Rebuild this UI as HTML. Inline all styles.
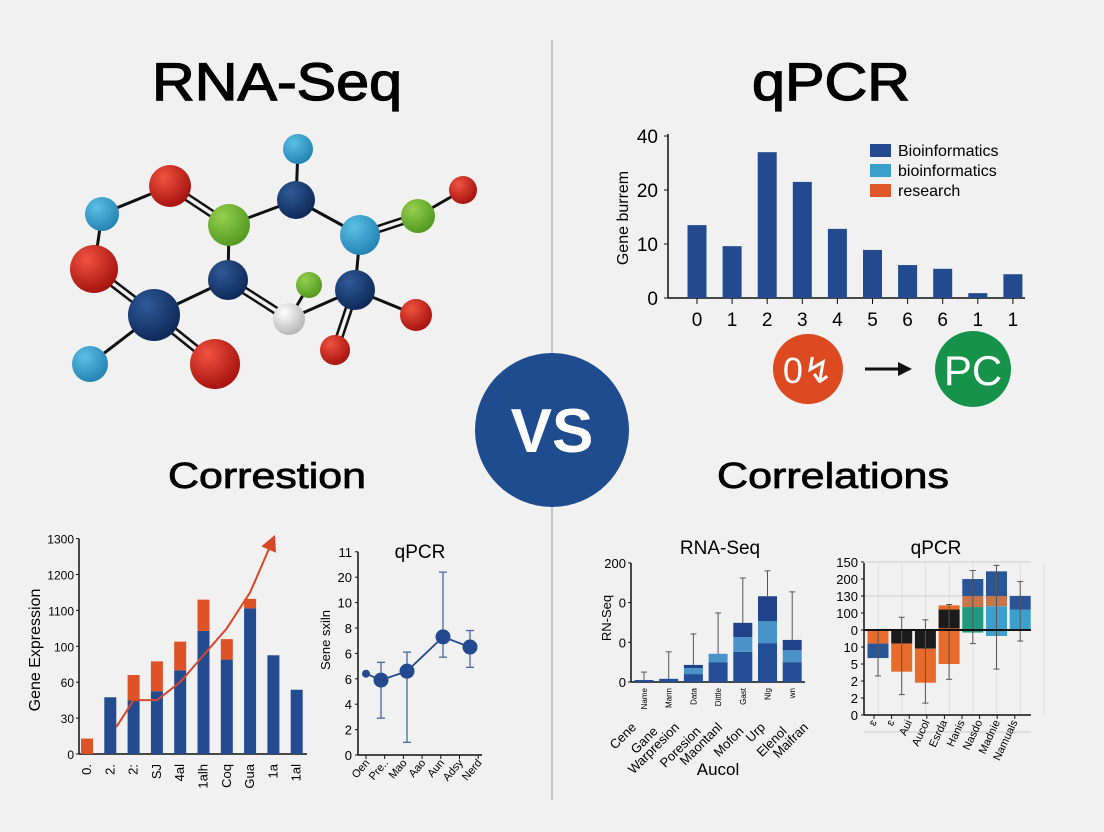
<!DOCTYPE html>
<html><head><meta charset="utf-8"><style>
html,body{margin:0;padding:0;background:#f1f1f1;}
svg{display:block;font-family:"Liberation Sans",sans-serif;}
.ttl{stroke:#000;stroke-width:1.3px;}
</style></head><body>
<svg id="root" width="1104" height="832" viewBox="0 0 1104 832" xmlns="http://www.w3.org/2000/svg">
<defs>
<radialGradient id="gR" cx="35%" cy="30%" r="70%"><stop offset="0" stop-color="#f0533f"/><stop offset="1" stop-color="#a8140f"/></radialGradient>
<radialGradient id="gN" cx="35%" cy="30%" r="70%"><stop offset="0" stop-color="#2f5a98"/><stop offset="1" stop-color="#0f2a5a"/></radialGradient>
<radialGradient id="gL" cx="35%" cy="30%" r="70%"><stop offset="0" stop-color="#5cc0e4"/><stop offset="1" stop-color="#2585b5"/></radialGradient>
<radialGradient id="gG" cx="35%" cy="30%" r="70%"><stop offset="0" stop-color="#95d04f"/><stop offset="1" stop-color="#559a22"/></radialGradient>
<radialGradient id="gW" cx="35%" cy="30%" r="70%"><stop offset="0" stop-color="#ffffff"/><stop offset="1" stop-color="#b8b8b8"/></radialGradient>
<marker id="arr" markerWidth="8" markerHeight="8" refX="6" refY="4" orient="auto"><path d="M0,0 L8,4 L0,8 z" fill="#d9472b"/></marker>
</defs>
<line x1="552" y1="40" x2="552" y2="800" stroke="#b8b8b8" stroke-width="1.5"/>
<text class="ttl" x="277" y="100" font-size="53" text-anchor="middle" textLength="250" lengthAdjust="spacingAndGlyphs">RNA-Seq</text>
<text class="ttl" x="831" y="100" font-size="53" text-anchor="middle" textLength="158" lengthAdjust="spacingAndGlyphs">qPCR</text>
<text class="ttl" x="267" y="488" font-size="36" text-anchor="middle" textLength="198" lengthAdjust="spacingAndGlyphs" style="stroke-width:0.8px">Correstion</text>
<text class="ttl" x="833" y="488" font-size="36" text-anchor="middle" textLength="232" lengthAdjust="spacingAndGlyphs" style="stroke-width:0.8px">Correlations</text>
<g id="mol"></g>
<g>
<circle cx="552" cy="430" r="77" fill="#1f4c8f"/>
<text x="552" y="452" font-size="62" font-weight="bold" fill="#fff" text-anchor="middle">VS</text>
</g>
<g>
<circle cx="808" cy="369" r="35" fill="#dd4a22"/>
<text x="808" y="383" font-size="36" fill="#fff" text-anchor="middle">0↯</text>
<line x1="865" y1="369" x2="900" y2="369" stroke="#111" stroke-width="3"/>
<path d="M898,362 L912,369 L898,376 z" fill="#111"/>
<circle cx="973" cy="369" r="38" fill="#17924a"/>
<text x="973" y="385" font-size="42" fill="#fff" text-anchor="middle">PC</text>
</g>
<g id="c1"></g>
<g id="c2"></g>
<g id="c3"></g>
<g id="c4"></g>
<g id="c5"></g>
</svg>
<script>
// ---- chart 1 data ----
const c1Cats = ["0","1","2","3","4","5","6","6","1","1"];
const c1Vals = [13.5,9.6,34,23,12.8,8.9,6.1,5.4,0.9,4.4];
const c1Ticks = [0,10,20,40];
const c1Legend = ["Bioinformatics","bioinformatics","research"];
// ---- chart 2 data (tick-step units) ----
const c2Cats = ["0.","2.","2:","SJ","4al","1alh","Coq","Gua","1a","1al"];
const c2Blue = [0,1.58,1.49,1.75,2.33,3.43,2.63,4.06,2.75,1.79];
const c2Orange = [0.43,0,0.71,0.83,0.8,0.87,0.57,0.26,0,0];
const c2Trend = [null,0.75,1.5,1.5,2.0,2.75,3.5,4.5,6.0];
const c2Ticks = ["0","30","60","100","1100","1200","1300"];
// ---- chart 3 data ----
const c3Cats = ["Oen","Pre..","Mao","Aao","Aun","Adsy","Nerd"];
const c3Vals = [3.2,2.95,3.3,4.65,4.25];
const c3Lo = [null,1.45,0.5,3.85,3.45];
const c3Hi = [null,3.65,4.05,7.2,4.9];
const c3Ticks = ["0","2","4","6","6","8","10","20","11"];
// ---- chart 4 data ----
const c4Cats = ["Cene","Gane","Warpresion","Poresion","Maontanl","Mofon","Urp","Elenol","Maifran"];
const c4Sub = ["Name","Mann","Data","Dittle","Gast","Nlg","wn"];
const c4S1 = [0.05,0.08,0.2,0.5,0.76,0.98,0.5];
const c4S2 = [0,0,0.15,0.21,0.37,0.55,0.3];
const c4S3 = [0,0,0.08,0,0.36,0.63,0.26];
const c4Err = [0.25,0.76,1.21,1.74,2.62,2.8,2.27];
const c4Ticks = ["0","0","0","200"];
// ---- chart 5 data (steps from zero line, up positive) ----
const c5Cats = ["ɛ","ɛ","Aui","Aucol","Esrda","Hanis","Nasdo","Madnie","Namuals"];
const c5Segs = [
 [[0,-0.8,"#e76b2b"],[-0.8,-1.65,"#2a5596"]],
 [[0,-0.8,"#1b1b1b"],[-0.8,-2.45,"#e76b2b"]],
 [[0,-1.1,"#1b1b1b"],[-1.1,-3.1,"#e76b2b"]],
 [[1.45,-2.0,"#e76b2b"],[1.2,0.1,"#1b1b1b"]],
 [[0,-0.15,"#1f9a80"],[0,1.35,"#1f9a80"],[1.35,2.0,"#c9754a"],[2.0,3.0,"#2a5596"]],
 [[-0.35,0,"#3d9fcc"],[0,1.4,"#3d9fcc"],[1.4,2.0,"#c9754a"],[2.0,3.45,"#2a5596"]],
 [[0,1.2,"#3d9fcc"],[1.2,2.0,"#2a5596"]]
];
const c5Err = [[-2.7,0],[-3.8,0.75],[-4.3,0.6],[-2.9,1.5],[-0.8,3.5],[-2.3,3.8],[-0.65,2.85]];
const c5Ticks = ["0","2","2","5","10","0","100","130","200","150"];

const NS="http://www.w3.org/2000/svg";
function mk(parent,tag,attrs,text){const e=document.createElementNS(NS,tag);for(const k in attrs)e.setAttribute(k,attrs[k]);if(text!=null)e.textContent=text;parent.appendChild(e);return e;}

// molecule (decorative, not data)
(function(){
 const g=document.getElementById('mol');
 const N=[[298,149,15,'L'],[296,200,19,'N'],[170,186,21,'R'],[102,214,17,'L'],[229,225,21,'G'],[228,280,20,'N'],[360,235,20,'L'],[418,216,17,'G'],[463,190,14,'R'],[94,269,24,'R'],[154,315,26,'N'],[309,285,13,'G'],[289,319,16,'W'],[355,290,20,'N'],[416,315,16,'R'],[335,350,15,'R'],[215,364,25,'R'],[90,364,18,'L']];
 const E=[[3,2,1],[2,4,2],[4,1,1],[1,0,1],[1,6,1],[6,7,2],[7,8,1],[6,13,1],[13,12,1],[13,14,1],[13,15,2],[12,11,1],[12,5,2],[5,4,1],[5,10,1],[10,9,2],[9,3,1],[10,16,2],[10,17,1]];
 E.forEach(([a,b,d])=>{const A=N[a],B=N[b];const dx=B[0]-A[0],dy=B[1]-A[1],L=Math.hypot(dx,dy),nx=-dy/L*3,ny=dx/L*3;
  if(d==2){[-1,1].forEach(s=>{const l=mk(g,'line',{x1:A[0]+nx*s,y1:A[1]+ny*s,x2:B[0]+nx*s,y2:B[1]+ny*s,stroke:'#111','stroke-width':2.5});
  
  });}
  else{const l=mk(g,'line',{x1:A[0],y1:A[1],x2:B[0],y2:B[1],stroke:'#111','stroke-width':3});
  
  }});
 N.forEach(n=>{const c=mk(g,'circle',{cx:n[0],cy:n[1],r:n[2],fill:'url(#g'+n[3]+')'});
  
  });
})();

// chart1
(function(){
 const g=document.getElementById('c1');
 const x0=668,x1=1025,y0=298,step=54;
 const y=v=>{for(let i=0;i<c1Ticks.length-1;i++){if(v<=c1Ticks[i+1]){return y0-(i+(v-c1Ticks[i])/(c1Ticks[i+1]-c1Ticks[i]))*step;}}return y0-(c1Ticks.length-1)*step;};
 const xc=i=>697+i*35.1;
 mk(g,'line',{x1:x0,y1:y0,x2:x1,y2:y0,stroke:'#111','stroke-width':1.5});
 mk(g,'line',{x1:x0,y1:y0,x2:x0,y2:y(40)-2,stroke:'#111','stroke-width':1.5});
 c1Ticks.forEach(t=>{mk(g,'line',{x1:x0-4,y1:y(t),x2:x0,y2:y(t),stroke:'#111'});
  const tl=mk(g,'text',{x:x0-10,y:y(t)+7,'font-size':19,'text-anchor':'end'},String(t));
  
  });
 const yt=mk(g,'text',{x:628,y:218,'font-size':16,'text-anchor':'middle',transform:'rotate(-90 628 218)'},'Gene burrem');
 
 
 c1Vals.forEach((v,i)=>{const b=mk(g,'rect',{x:xc(i)-9.5,y:y(v),width:19,height:y0-y(v),fill:'#234a8e'});
  
  
  mk(g,'line',{x1:xc(i),y1:y0,x2:xc(i),y2:y0+6,stroke:'#111'});
  const t=mk(g,'text',{x:xc(i),y:y0+28,'font-size':19,'text-anchor':'middle'},c1Cats[i]);
  
  });
 const cols=['#234a8e','#3a9fcb','#e0582a'];
 c1Legend.forEach((s,i)=>{const r=mk(g,'rect',{x:870,y:144+i*20,width:21,height:13,fill:cols[i]});
  
  
  const t=mk(g,'text',{x:898,y:156+i*20,'font-size':16},s);
  
  });
})();

// chart2
(function(){
 const g=document.getElementById('c2');
 const x0=79,y0=754,step=35.9;
 const y=v=>y0-v*step, xc=i=>87+i*23.3;
 mk(g,'line',{x1:x0,y1:y0,x2:307,y2:y0,stroke:'#111','stroke-width':1.5});
 mk(g,'line',{x1:x0,y1:y0,x2:x0,y2:y(6),stroke:'#111','stroke-width':1.5});
 c2Ticks.forEach((t,i)=>{mk(g,'line',{x1:x0-3,y1:y(i),x2:x0,y2:y(i),stroke:'#111'});
  const tl=mk(g,'text',{x:x0-5,y:y(i)+5,'font-size':12,'text-anchor':'end'},t);
  
  });
 const yt=mk(g,'text',{x:40,y:650,'font-size':16,'text-anchor':'middle',transform:'rotate(-90 40 650)'},'Gene Expression');
 
 
 c2Cats.forEach((c,i)=>{
  if(c2Blue[i]>0){const b=mk(g,'rect',{x:xc(i)-6,y:y(c2Blue[i]),width:12,height:y0-y(c2Blue[i]),fill:'#244a90'});
   
   }
  if(c2Orange[i]>0){const b=mk(g,'rect',{x:xc(i)-6,y:y(c2Blue[i]+c2Orange[i]),width:12,height:c2Orange[i]*step,fill:'#dd5327'});
   
   }
  const t=mk(g,'text',{x:xc(i)+4,y:y0+10,'font-size':13,'text-anchor':'end',transform:`rotate(-90 ${xc(i)+4} ${y0+10})`},c);
  
  });
 let d='';c2Trend.forEach((v,i)=>{if(v==null)return;const X=xc(i)+(i==1?6:0);d+=(d?' L':'M')+X+','+y(v);});
 const p=mk(g,'path',{d:d,fill:'none',stroke:'#d9472b','stroke-width':2,'marker-end':'url(#arr)'});
 
 
})();

// chart3
(function(){
 const g=document.getElementById('c3');
 const x0=358,y0=755,step=25.4;
 const y=v=>y0-v*step, xc=i=>366+i*19.2;
 mk(g,'line',{x1:x0,y1:y0,x2:482,y2:y0,stroke:'#111','stroke-width':1.5});
 mk(g,'line',{x1:x0,y1:y0,x2:x0,y2:y(8),stroke:'#111','stroke-width':1.5});
 c3Ticks.forEach((t,i)=>{mk(g,'line',{x1:x0-3,y1:y(i),x2:x0,y2:y(i),stroke:'#111'});
  const tl=mk(g,'text',{x:x0-6,y:y(i)+5,'font-size':13,'text-anchor':'end'},t);
  
  });
 const tt=mk(g,'text',{x:420,y:558,'font-size':19,'text-anchor':'middle'},'qPCR');
 
 
 const yt=mk(g,'text',{x:330,y:640,'font-size':13,'text-anchor':'middle',transform:'rotate(-90 330 640)'},'Sene sxiln');
 
 
 c3Cats.forEach((c,i)=>{mk(g,'line',{x1:x0+8+i*18.7,y1:y0,x2:x0+8+i*18.7,y2:y0+4,stroke:'#111'});
  const X=x0+12+i*18.7;
  const t=mk(g,'text',{x:X,y:y0+8,'font-size':11,'text-anchor':'end',transform:`rotate(-50 ${X} ${y0+8})`},c);
  
  });
 const px=[366,381,407,443,470];
 let d='';c3Vals.forEach((v,i)=>{d+=(i?' L':'M')+px[i]+','+y(v);});
 const ln=mk(g,'path',{d:d,fill:'none',stroke:'#234a8e','stroke-width':1.8});
 
 
 c3Vals.forEach((v,i)=>{
  if(c3Lo[i]!=null){mk(g,'line',{x1:px[i],y1:y(c3Lo[i]),x2:px[i],y2:y(c3Hi[i]),stroke:'#4a67a0','stroke-width':1.3});
   [c3Lo[i],c3Hi[i]].forEach(e=>mk(g,'line',{x1:px[i]-4,y1:y(e),x2:px[i]+4,y2:y(e),stroke:'#4a67a0','stroke-width':1.3}));}
  const c=mk(g,'circle',{cx:px[i],cy:y(v),r:i==0?4:7.5,fill:'#234a8e'});
  
  });
})();

// chart4
(function(){
 const g=document.getElementById('c4');
 const x0=631,y0=682,step=39.7;
 const y=v=>y0-v*step, xc=i=>644+i*24.7;
 mk(g,'line',{x1:x0,y1:y0,x2:805,y2:y0,stroke:'#111','stroke-width':1.5});
 mk(g,'line',{x1:x0,y1:y0,x2:x0,y2:y(3),stroke:'#111','stroke-width':1.5});
 c4Ticks.forEach((t,i)=>{mk(g,'line',{x1:x0-3,y1:y(i),x2:x0,y2:y(i),stroke:'#111'});
  const tl=mk(g,'text',{x:x0-5,y:y(i)+5,'font-size':13,'text-anchor':'end'},t);
  
  });
 const tt=mk(g,'text',{x:720,y:554,'font-size':19,'text-anchor':'middle'},'RNA-Seq');
 
 
 const yt=mk(g,'text',{x:611,y:618,'font-size':13,'text-anchor':'middle',transform:'rotate(-90 611 618)'},'RN-Seq');
 
 
 c4Sub.forEach((c,i)=>{const S1=c4S1[i],S2=c4S2[i],S3=c4S3[i];
  [[0,S1,'#244f98'],[S1,S1+S2,'#4a93c8'],[S1+S2,S1+S2+S3,'#1f4289']].forEach(s=>{if(s[1]>s[0]){const r=mk(g,'rect',{x:xc(i)-9.5,y:y(s[1]),width:19,height:(s[1]-s[0])*step,fill:s[2]});
   
   }});
  mk(g,'line',{x1:xc(i),y1:y(S1+S2+S3),x2:xc(i),y2:y(c4Err[i]),stroke:'#555','stroke-width':1});
  mk(g,'line',{x1:xc(i)-3,y1:y(c4Err[i]),x2:xc(i)+3,y2:y(c4Err[i]),stroke:'#555','stroke-width':1});
  const t=mk(g,'text',{x:xc(i)+3,y:y0+6,'font-size':8,'text-anchor':'end',transform:`rotate(-90 ${xc(i)+3} ${y0+6})`},c);
  
  });
 c4Cats.forEach((c,i)=>{const X=637+i*21.5,Y=728+(i%2?4:0);
  const t=mk(g,'text',{x:X,y:Y,'font-size':13,'text-anchor':'end',transform:`rotate(-45 ${X} ${Y})`},c);
  
  });
 const xt=mk(g,'text',{x:718,y:775,'font-size':17,'text-anchor':'middle'},'Aucol');
 
 
})();

// chart5
(function(){
 const g=document.getElementById('c5');
 const x0=864,x1=1031,yz=630,step=17;
 const y=v=>yz-v*step, xc=i=>878+i*23.7;
 for(let k=0;k<8;k++){mk(g,'line',{x1:x0+23.7*(k+0.6),y1:563,x2:x0+23.7*(k+0.6),y2:715,stroke:'#ddd','stroke-width':1});}
 [2,-6].forEach(v=>mk(g,'line',{x1:x0,y1:y(v),x2:x1,y2:y(v),stroke:'#ccc','stroke-width':1}));
 mk(g,'line',{x1:x0,y1:y(4),x2:x1,y2:y(4),stroke:'#ccc','stroke-width':1});
 mk(g,'line',{x1:x0,y1:715,x2:x1,y2:715,stroke:'#111','stroke-width':1.5});
 mk(g,'line',{x1:x0,y1:563,x2:x0,y2:715,stroke:'#111','stroke-width':1.5});
 c5Ticks.forEach((t,i)=>{const Y=715-i*17;mk(g,'line',{x1:x0-3,y1:Y,x2:x0,y2:Y,stroke:'#111'});
  const tl=mk(g,'text',{x:x0-6,y:Y+5,'font-size':13,'text-anchor':'end'},t);
  
  });
 const tt=mk(g,'text',{x:936,y:554,'font-size':19,'text-anchor':'middle'},'qPCR');
 
 
 c5Segs.forEach((segs,i)=>{segs.forEach(s=>{const a=Math.max(s[0],s[1]),b=Math.min(s[0],s[1]);
  const r=mk(g,'rect',{x:xc(i)-10.5,y:y(a),width:21,height:(a-b)*step,fill:s[2]});
  
  });
  const e=c5Err[i];mk(g,'line',{x1:xc(i),y1:y(e[0]),x2:xc(i),y2:y(e[1]),stroke:'#555','stroke-width':1});
  e.forEach(v=>mk(g,'line',{x1:xc(i)-3,y1:y(v),x2:xc(i)+3,y2:y(v),stroke:'#555','stroke-width':1}));});
 mk(g,'line',{x1:x0,y1:yz,x2:x1,y2:yz,stroke:'#111','stroke-width':2});
 c5Cats.forEach((c,i)=>{const X=877+i*17.6;mk(g,'line',{x1:X-3,y1:715,x2:X-3,y2:719,stroke:'#111'});
  const t=mk(g,'text',{x:X,y:722,'font-size':11,'text-anchor':'end',transform:`rotate(-65 ${X} 722)`},c);
  
  });
})();
</script>
</body></html>
